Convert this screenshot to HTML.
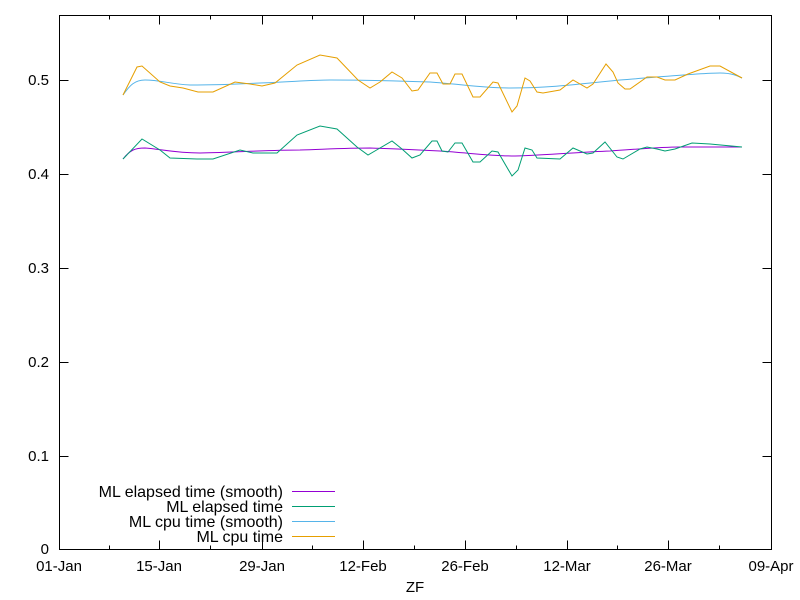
<!DOCTYPE html>
<html><head><meta charset="utf-8"><style>body{margin:0;background:#fff}svg{display:block}text{font-family:"Liberation Sans",sans-serif;font-size:15px;fill:#000}.lg{font-size:16px}</style></head><body>
<svg width="800" height="600" viewBox="0 0 800 600">
<rect width="800" height="600" fill="#fff"/>
<g stroke="#000" stroke-width="1" fill="none">
<rect x="59.5" y="15.5" width="712" height="534"/>
<path d="M59.5 549.5h9M771.5 549.5h-9M59.5 456.5h9M771.5 456.5h-9M59.5 362.5h9M771.5 362.5h-9M59.5 268.5h9M771.5 268.5h-9M59.5 174.5h9M771.5 174.5h-9M59.5 80.5h9M771.5 80.5h-9"/>
<path d="M59.5 549.5v-9M159.5 549.5v-9M262.5 549.5v-9M363.5 549.5v-9M465.5 549.5v-9M567.5 549.5v-9M668.5 549.5v-9M771.5 549.5v-9M59.5 15.5v9M159.5 15.5v9M262.5 15.5v9M363.5 15.5v9M465.5 15.5v9M567.5 15.5v9M668.5 15.5v9M771.5 15.5v9"/>
<path d="M109.5 549.5v-4M210.5 549.5v-4M312.5 549.5v-4M414.5 549.5v-4M516.5 549.5v-4M617.5 549.5v-4M719.5 549.5v-4M109.5 15.5v4M210.5 15.5v4M312.5 15.5v4M414.5 15.5v4M516.5 15.5v4M617.5 15.5v4M719.5 15.5v4"/>
</g>
<g text-anchor="end">
<text x="49" y="554">0</text><text x="49" y="461">0.1</text><text x="49" y="367">0.2</text><text x="49" y="273">0.3</text><text x="49" y="179">0.4</text><text x="49" y="85">0.5</text>
</g>
<g text-anchor="middle">
<text x="59" y="571">01-Jan</text><text x="159" y="571">15-Jan</text><text x="262" y="571">29-Jan</text><text x="363" y="571">12-Feb</text><text x="465" y="571">26-Feb</text><text x="567" y="571">12-Mar</text><text x="668" y="571">26-Mar</text><text x="771" y="571">09-Apr</text>
<text x="415" y="592">ZF</text>
</g>
<g fill="none" stroke-width="1">
<path stroke="#56b4e9" d="M123 95 C130 85 135 80 145 80 C160 80 170 84 190 85 C220 85 240 84 260 83 C290 82 310 80 330 80 C370 80 400 81 430 82 C460 84 480 88 510 88 C550 88 580 84 620 80 C660 77 700 73 720 73 C732 73 738 76 742 78"/>
<path stroke="#e69f00" d="M123 95 L137 67 L142 66 L160 82 L170 86 L183 88 L198 92 L213 92 L235 82 L250 84 L262 86 L275 83 L297 65 L320 55 L337 58 L358 80 L370 88 L380 82 L392 72 L402 78 L412 91 L418 90 L430 73 L437 73 L443 84 L450 84 L455 74 L462 74 L473 97 L480 97 L493 82 L498 83 L512 112 L517 106 L525 78 L530 81 L537 92 L543 93 L560 90 L573 80 L587 88 L593 84 L606 64 L613 72 L618 83 L625 89 L630 89 L647 77 L657 77 L665 80 L675 80 L688 74 L710 66 L720 66 L742 78"/>
<path stroke="#9400d3" d="M123 159 C130 150 135 148 145 148 C160 149 175 153 200 153 C240 152 270 150 300 150 C330 149 350 148 370 148 C400 149 420 150 440 151 C470 153 490 156 515 156 C550 155 580 152 610 151 C640 149 660 147 680 147 L742 147"/>
<path stroke="#009e73" d="M123 159 L142 139 L160 150 L170 158 L197 159 L213 159 L240 150 L253 153 L277 153 L297 135 L320 126 L337 129 L357 147 L368 155 L380 148 L392 141 L402 149 L412 158 L420 155 L432 141 L437 141 L442 151 L448 152 L455 143 L462 143 L473 162 L480 162 L492 151 L498 152 L512 176 L518 170 L525 148 L532 150 L537 158 L560 159 L573 148 L587 154 L593 153 L605 142 L617 157 L623 159 L640 149 L647 147 L657 149 L665 151 L675 149 L692 143 L710 144 L742 147"/>
</g>
<g text-anchor="end" class="lg">
<text class="lg" x="283" y="497">ML elapsed time (smooth)</text>
<text class="lg" x="283" y="512">ML elapsed time</text>
<text class="lg" x="283" y="527">ML cpu time (smooth)</text>
<text class="lg" x="283" y="542">ML cpu time</text>
</g>
<g stroke-width="1">
<path stroke="#9400d3" d="M292 491.5h43"/>
<path stroke="#009e73" d="M292 506.5h43"/>
<path stroke="#56b4e9" d="M292 521.5h43"/>
<path stroke="#e69f00" d="M292 536.5h43"/>
</g>
</svg>
</body></html>
